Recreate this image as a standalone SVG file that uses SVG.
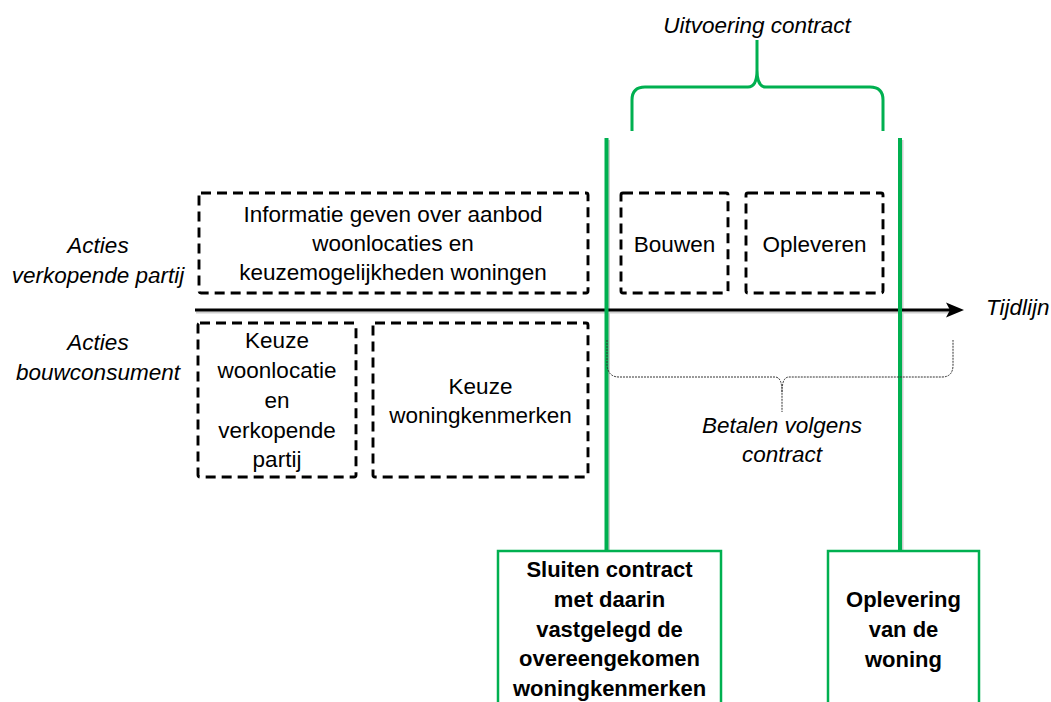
<svg xmlns="http://www.w3.org/2000/svg" width="1051" height="702" viewBox="0 0 1051 702">
<defs>
<style>
.t{font-family:"Liberation Sans",Arial,sans-serif;font-size:22.5px;fill:#000;text-anchor:middle}
.i{font-style:italic}
.b{font-weight:bold;font-size:22px}
.dash{fill:none;stroke:#000;stroke-width:2.9;stroke-dasharray:10 6}
.green{fill:none;stroke:#00B050}
.gbox{fill:#fff;stroke:#00B050;stroke-width:2.5}
.shadow{fill:none;stroke:#cfcfcf}
</style>
</defs>
<rect width="1051" height="702" fill="#fff"/>

<g id="labels">
<text class="t i" x="98" y="253">Acties</text>
<text class="t i" x="98" y="283">verkopende partij</text>
<text class="t i" x="98" y="350">Acties</text>
<text class="t i" x="98" y="380">bouwconsument</text>
<text class="t i" x="757" y="33">Uitvoering contract</text>
<text class="t i" x="986" y="315" style="text-anchor:start">Tijdlijn</text>
</g>

<g id="connectors">
<path class="green" stroke-width="3" d="M632,131 L632,100 Q632,87 645,87 L748,87 Q757,87 757,70 L757,40 M757,70 Q757,87 766,87 L870,87 Q883,87 883,100 L883,131"/>
<line class="shadow" x1="608.5" y1="140" x2="608.5" y2="551" stroke-width="3"/>
<line class="shadow" x1="902" y1="140" x2="902" y2="551" stroke-width="3"/>
<line class="shadow" x1="196" y1="312.5" x2="950" y2="312.5" stroke-width="2"/>
<line x1="195" y1="310" x2="952" y2="310" stroke="#000" stroke-width="3"/>
<polygon points="964,310 946,302.5 950,310 946,317.5" fill="#000"/>
<line class="green" x1="606.5" y1="138" x2="606.5" y2="551" stroke-width="4"/>
<line class="green" x1="900" y1="138" x2="900" y2="551" stroke-width="4"/>
<path fill="none" stroke="#333" stroke-width="1" stroke-dasharray="2 1" d="M607,340 L607,365 Q608,377 619,377 L775,377 Q782,377 782,392 L782,412 M782,392 Q782,377 789,377 L942,377 Q953,377 953,365 L953,340"/>
<text class="t i" x="782" y="433">Betalen volgens</text>
<text class="t i" x="782" y="462">contract</text>
</g>

<g id="node-informatie">
<rect class="dash" x="199" y="193" width="389" height="100" rx="2"/>
<text class="t" x="393" y="222">Informatie geven over aanbod</text>
<text class="t" x="393" y="251">woonlocaties en</text>
<text class="t" x="393" y="280">keuzemogelijkheden woningen</text>
</g>

<g id="node-bouwen">
<rect class="dash" x="621" y="193" width="107" height="100" rx="2"/>
<text class="t" x="674.5" y="252">Bouwen</text>
</g>

<g id="node-opleveren">
<rect class="dash" x="746" y="193" width="137" height="100" rx="2"/>
<text class="t" x="814.5" y="252">Opleveren</text>
</g>

<g id="node-keuze-woonlocatie">
<rect class="dash" x="198" y="323" width="158" height="154" rx="2"/>
<text class="t" x="277" y="348">Keuze</text>
<text class="t" x="277" y="378">woonlocatie</text>
<text class="t" x="277" y="408">en</text>
<text class="t" x="277" y="438">verkopende</text>
<text class="t" x="277" y="467">partij</text>
</g>

<g id="node-keuze-woningkenmerken">
<rect class="dash" x="373" y="323" width="215" height="154" rx="2"/>
<text class="t" x="480.5" y="394">Keuze</text>
<text class="t" x="480.5" y="423">woningkenmerken</text>
</g>

<g id="node-sluiten-contract">
<rect class="gbox" x="498" y="551" width="223" height="200"/>
<text class="t b" x="609.5" y="577">Sluiten contract</text>
<text class="t b" x="609.5" y="607">met daarin</text>
<text class="t b" x="609.5" y="637">vastgelegd de</text>
<text class="t b" x="609.5" y="666">overeengekomen</text>
<text class="t b" x="609.5" y="696">woningkenmerken</text>
</g>

<g id="node-oplevering">
<rect class="gbox" x="828" y="551" width="151" height="200"/>
<text class="t b" x="903.5" y="607">Oplevering</text>
<text class="t b" x="903.5" y="637">van de</text>
<text class="t b" x="903.5" y="667">woning</text>
</g>
</svg>
